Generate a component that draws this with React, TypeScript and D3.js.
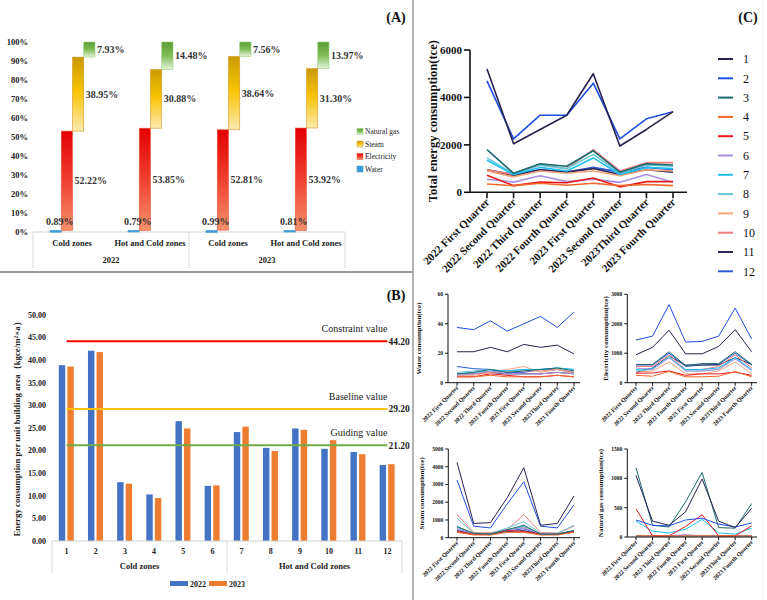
import * as d3 from "d3"

// ---- Panel A: share of energy types ----
const shareZones = ["Cold zones", "Hot and Cold zones", "Cold zones", "Hot and Cold zones"]
const shareYears = ["2022", "2023"]
const energyTypes = ["Water", "Electricity", "Steam", "Natural gas"]
const shareWater = [0.89, 0.79, 0.99, 0.81]
const shareElectricity = [52.22, 53.85, 52.81, 53.92]
const shareSteam = [38.95, 30.88, 38.64, 31.3]
const shareGas = [7.93, 14.48, 7.56, 13.97]
const percentTicks = [0, 10, 20, 30, 40, 50, 60, 70, 80, 90, 100]

// ---- Panel B: intensity per building ----
const buildings = ["1", "2", "3", "4", "5", "6", "7", "8", "9", "10", "11", "12"]
const intensity2022 = [38.9, 42.1, 13.0, 10.3, 26.5, 12.2, 24.1, 20.6, 24.9, 20.4, 19.7, 16.8]
const intensity2023 = [38.6, 41.8, 12.7, 9.5, 24.9, 12.3, 25.3, 19.9, 24.6, 22.3, 19.2, 17.0]
const benchmarkNames = ["Constraint value", "Baseline value", "Guiding value"]
const benchmarkValues = [44.2, 29.2, 21.2]
const intensityTicks = [0, 5, 10, 15, 20, 25, 30, 35, 40, 45, 50]

// ---- Panel C: quarterly consumption per building ----
const quarters = [
  "2022 First Quarter",
  "2022 Second Quarter",
  "2022 Third Quarter",
  "2022 Fourth Quarter",
  "2023 First Quarter",
  "2023 Second Quarter",
  "2023Third Quarter",
  "2023 Fourth Quarter",
]

const totalData = [
  [5200, 2050, 2650, 3250, 5000, 1950, 2650, 3400],
  [4700, 2250, 3250, 3250, 4600, 2250, 3100, 3400],
  [1800, 800, 1200, 1100, 1750, 850, 1200, 1150],
  [350, 280, 380, 300, 380, 280, 330, 280],
  [720, 280, 430, 400, 600, 230, 450, 450],
  [550, 430, 700, 450, 550, 420, 750, 420],
  [1350, 750, 1050, 900, 1450, 750, 1050, 1000],
  [1450, 780, 1150, 1000, 1600, 800, 1150, 1100],
  [900, 650, 900, 800, 900, 700, 950, 900],
  [950, 750, 1150, 1000, 1800, 900, 1250, 1250],
  [950, 700, 950, 850, 1000, 750, 950, 850],
  [950, 750, 950, 850, 1050, 850, 1050, 950],
]

const waterData = [
  [21, 21, 24, 21, 26, 24, 25.5, 19.5],
  [37.5, 36, 42, 35, 40, 45, 37.5, 48],
  [6, 7, 9, 7, 8, 9, 10, 8],
  [4, 4, 5, 4, 4, 4, 5, 4],
  [4, 4, 6, 5, 4, 4, 5, 4],
  [5, 6, 8, 6, 6, 6, 7, 6],
  [6, 7, 8, 8, 9, 9, 10, 9],
  [7, 8, 9, 8, 9, 9, 10, 9],
  [5, 5, 7, 9, 11, 7, 9, 6],
  [6, 6, 7, 8, 8, 8, 9, 7],
  [6, 6, 7, 6, 6, 6, 7, 6],
  [11, 9.5, 9, 7, 7, 9, 9, 7],
]

const electricityData = [
  [950, 1200, 1780, 980, 980, 1230, 1800, 1050],
  [1450, 1580, 2650, 1380, 1400, 1580, 2530, 1480],
  [620, 620, 1050, 580, 650, 650, 1050, 620],
  [250, 220, 380, 200, 200, 220, 380, 200],
  [320, 330, 400, 250, 300, 300, 360, 250],
  [500, 450, 850, 400, 400, 450, 800, 420],
  [450, 480, 850, 450, 450, 500, 850, 450],
  [400, 450, 900, 400, 400, 450, 850, 400],
  [350, 400, 700, 300, 300, 400, 700, 300],
  [550, 550, 950, 450, 450, 550, 950, 500],
  [350, 500, 900, 600, 600, 600, 850, 620],
  [600, 600, 1000, 550, 600, 620, 1000, 600],
]

const steamData = [
  [4250, 800, 850, 2250, 3950, 700, 800, 2350],
  [3250, 650, 550, 1900, 3150, 650, 550, 1850],
  [600, 250, 200, 450, 700, 200, 200, 400],
  [300, 150, 150, 300, 300, 150, 150, 300],
  [350, 200, 200, 400, 350, 200, 200, 350],
  [500, 200, 200, 450, 550, 200, 200, 400],
  [650, 200, 200, 400, 650, 200, 200, 400],
  [1100, 250, 250, 550, 900, 250, 250, 700],
  [650, 250, 300, 400, 600, 250, 250, 350],
  [1300, 300, 250, 450, 1300, 300, 250, 650],
  [400, 200, 200, 350, 400, 200, 200, 350],
  [500, 200, 200, 400, 500, 200, 200, 400],
]

const gasData = [
  [1050, 270, 200, 430, 990, 270, 160, 490],
  [290, 200, 190, 290, 320, 220, 170, 240],
  [1180, 200, 170, 600, 1100, 160, 150, 570],
  [20, 20, 20, 20, 20, 20, 20, 20],
  [480, 20, 20, 180, 380, 20, 20, 190],
  [20, 20, 20, 40, 20, 20, 20, 20],
  [270, 100, 70, 130, 300, 70, 50, 150],
  [15, 15, 15, 15, 15, 15, 15, 15],
  [10, 10, 10, 10, 10, 10, 10, 10],
  [10, 10, 10, 10, 10, 10, 10, 10],
  [15, 15, 15, 15, 15, 15, 15, 15],
  [20, 20, 20, 20, 20, 20, 20, 20],
]

const FONT = "'Liberation Serif', 'Times New Roman', serif"

const seriesColors = [
  "#27224f", "#1f4fe0", "#1d6a6e", "#f2682a", "#e8191b", "#a890e0",
  "#22c0f2", "#66c8d6", "#f7a47c", "#f27d7d", "#2b2955", "#2f58d6",
]

function fmtPct(v: number) {
  return v.toFixed(2) + "%"
}

function PanelA() {
  const x = d3.scaleBand<number>().domain([0, 1, 2, 3]).range([33, 345])
  const sub = d3.scaleBand<string>().domain(energyTypes).range([17, 62])
  const y = d3.scaleLinear().domain([0, 100]).range([232, 42])
  const fills = ["#3b9bd6", "url(#gElec)", "url(#gSteam)", "url(#gGas)"]
  const strokes = ["#3b9bd6", "#e25a3a", "#d99a2a", "#9bcf7a"]

  return (
    <g>
      <defs>
        <linearGradient id="gElec" x1="0" y1="0" x2="0" y2="1">
          <stop offset="0" stopColor="#e30000" />
          <stop offset="0.5" stopColor="#f04030" />
          <stop offset="1" stopColor="#f5926a" />
        </linearGradient>
        <linearGradient id="gSteam" x1="0" y1="0" x2="0" y2="1">
          <stop offset="0" stopColor="#c99a00" />
          <stop offset="0.45" stopColor="#f7c200" />
          <stop offset="1" stopColor="#fdeab0" />
        </linearGradient>
        <linearGradient id="gGas" x1="0" y1="0" x2="0" y2="1">
          <stop offset="0" stopColor="#5a9e32" />
          <stop offset="0.5" stopColor="#80bd58" />
          <stop offset="1" stopColor="#e4f2d8" />
        </linearGradient>
      </defs>
      {percentTicks.map((t) => (
        <text key={t} x={28} y={y(t)} dy="0.35em" textAnchor="end" fontSize={8.5} fontWeight="bold" fill="#222">
          {t}%
        </text>
      ))}
      <line x1={33} x2={345} y1={232} y2={232} stroke="#d0d0d0" />
      {[33, 189, 345].map((lx) => (
        <line key={lx} x1={lx} x2={lx} y1={232} y2={268} stroke="#d9d9d9" />
      ))}
      {shareZones.map((z, i) => {
        const vals = [shareWater[i], shareElectricity[i], shareSteam[i], shareGas[i]]
        const starts = [0, vals[0], vals[0] + vals[1], vals[0] + vals[1] + vals[2]]
        const bx = x(i)!
        return (
          <g key={i}>
            {energyTypes.map((t, k) => {
              const x0 = bx + sub(t)!
              const top = y(starts[k] + vals[k])
              const h = Math.max(1.5, y(starts[k]) - top)
              return (
                <rect key={t} x={x0} y={k === 0 ? y(0) - 1.5 : top} width={sub.bandwidth()} height={h}
                  fill={fills[k]} stroke={strokes[k]} strokeWidth={0.6} />
              )
            })}
            {energyTypes.map((t, k) => {
              const x0 = bx + sub(t)!
              if (k === 0) {
                return (
                  <text key={t} x={x0 + sub.bandwidth() / 2 + 4} y={y(0) - 7} textAnchor="middle" fontSize={10} fontWeight="bold" fill="#333">
                    {fmtPct(vals[k])}
                  </text>
                )
              }
              return (
                <text key={t} x={x0 + sub.bandwidth() + 2} y={y(starts[k] + vals[k] / 2)} dy="0.35em" fontSize={10} fontWeight="bold" fill="#333">
                  {fmtPct(vals[k])}
                </text>
              )
            })}
            <text x={bx + x.bandwidth() / 2} y={246} textAnchor="middle" fontSize={8.5} fontWeight="bold" fill="#222">
              {z}
            </text>
          </g>
        )
      })}
      {shareYears.map((yr, i) => (
        <text key={yr} x={111 + i * 156} y={263} textAnchor="middle" fontSize={8.5} fontWeight="bold" fill="#222">
          {yr}
        </text>
      ))}
      {["Natural gas", "Steam", "Electricity", "Water"].map((nm, i) => {
        const k = energyTypes.indexOf(nm)
        const cy = 131.5 + i * 12.5
        return (
          <g key={nm}>
            <rect x={357} y={cy - 3} width={6} height={6} fill={fills[k]} stroke={strokes[k]} strokeWidth={0.5} />
            <text x={365} y={cy} dy="0.35em" fontSize={7.5} fill="#222">
              {nm}
            </text>
          </g>
        )
      })}
      <text x={396} y={22} textAnchor="middle" fontSize={14} fontWeight="bold" fill="#111">
        (A)
      </text>
    </g>
  )
}

function PanelB() {
  const x = d3.scaleBand<string>().domain(buildings).range([52, 402])
  const sub = d3.scaleBand<string>().domain(["2022", "2023"]).range([6.8, 21.8]).paddingInner(0.25)
  const y = d3.scaleLinear().domain([0, 50]).range([541, 315])
  const benchColors = ["#ff0000", "#ffc000", "#70ad47"]
  const cx = (b: string) => x(b)! + x.bandwidth() / 2
  const xStart = cx(buildings[0])
  const xEnd = cx(buildings[buildings.length - 1])

  return (
    <g>
      {intensityTicks.map((t) => (
        <text key={t} x={46} y={y(t)} dy="0.35em" textAnchor="end" fontSize={8} fontWeight="bold" fill="#222">
          {t.toFixed(2)}
        </text>
      ))}
      <text transform={`translate(20,${427}) rotate(-90)`} textAnchor="middle" fontSize={8.8} fontWeight="bold" fill="#222">
        Energy consumption per unit building area（kgce/m²×a）
      </text>
      {buildings.map((b, i) => (
        <g key={b}>
          <rect x={x(b)! + sub("2022")!} y={y(intensity2022[i])} width={sub.bandwidth()} height={y(0) - y(intensity2022[i])} fill="#4472c4" />
          <rect x={x(b)! + sub("2023")!} y={y(intensity2023[i])} width={sub.bandwidth()} height={y(0) - y(intensity2023[i])} fill="#ed7d31" />
          <text x={cx(b)} y={551} dy="0.35em" textAnchor="middle" fontSize={8} fontWeight="bold" fill="#222">
            {b}
          </text>
        </g>
      ))}
      <line x1={52} x2={402} y1={541} y2={541} stroke="#d0d0d0" />
      {[52, x("7")!, 402].map((lx) => (
        <line key={lx} x1={lx} x2={lx} y1={541} y2={573} stroke="#d9d9d9" />
      ))}
      <text x={(52 + x("7")!) / 2} y={566} dy="0.35em" textAnchor="middle" fontSize={8.5} fontWeight="bold" fill="#222">
        Cold zones
      </text>
      <text x={(x("7")! + 402) / 2} y={566} dy="0.35em" textAnchor="middle" fontSize={8.5} fontWeight="bold" fill="#222">
        Hot and Cold zones
      </text>
      {benchmarkNames.map((nm, i) => (
        <g key={nm}>
          <line x1={xStart} x2={xEnd} y1={y(benchmarkValues[i])} y2={y(benchmarkValues[i])} stroke={benchColors[i]} strokeWidth={2} />
          <text x={xEnd} y={y(benchmarkValues[i]) - 9} textAnchor="end" fontSize={10} fill="#222">
            {nm}
          </text>
          <text x={xEnd + 1} y={y(benchmarkValues[i])} dy="0.35em" fontSize={9.5} fontWeight="bold" fill="#222">
            {benchmarkValues[i].toFixed(2)}
          </text>
        </g>
      ))}
      <rect x={170} y={581} width={18} height={5} fill="#4472c4" />
      <text x={190} y={584} dy="0.35em" fontSize={8} fontWeight="bold" fill="#222">2022</text>
      <rect x={209} y={581} width={18} height={5} fill="#ed7d31" />
      <text x={229} y={584} dy="0.35em" fontSize={8} fontWeight="bold" fill="#222">2023</text>
      <text x={396} y={300} textAnchor="middle" fontSize={14} fontWeight="bold" fill="#111">
        (B)
      </text>
    </g>
  )
}

interface LineChartProps {
  data: number[][]
  axisX: number
  xFirst: number
  xLast: number
  xEnd: number
  y0: number
  yTop: number
  max: number
  ticks: number[]
  title: string
  titleX: number
  tickFont: number
  labelFont: number
  titleFont: number
  strokeW: number
  tickLen: number
  axisW: number
}

function LineChart(p: LineChartProps) {
  const x = d3.scalePoint<string>().domain(quarters).range([p.xFirst, p.xLast])
  const y = d3.scaleLinear().domain([0, p.max]).range([p.y0, p.yTop])
  const line = d3
    .line<number>()
    .x((_, i) => x(quarters[i])!)
    .y((d) => y(d))
  const order = [11, 10, 9, 8, 7, 6, 5, 4, 3, 2, 1, 0]
  return (
    <g>
      {order.map((s) => (
        <path key={s} d={line(p.data[s]) || ""} fill="none" stroke={seriesColors[s]} strokeWidth={p.strokeW} strokeLinejoin="round" />
      ))}
      <line x1={p.axisX} x2={p.axisX} y1={p.y0} y2={p.yTop} stroke="#111" strokeWidth={p.axisW} />
      <line x1={p.axisX} x2={p.xEnd} y1={p.y0} y2={p.y0} stroke="#111" strokeWidth={p.axisW} />
      {p.ticks.map((t) => (
        <g key={t}>
          <line x1={p.axisX - p.tickLen} x2={p.axisX} y1={y(t)} y2={y(t)} stroke="#111" strokeWidth={p.axisW} />
          <text x={p.axisX - p.tickLen - 2} y={y(t)} dy="0.35em" textAnchor="end" fontSize={p.tickFont} fontWeight="bold" fill="#111">
            {t}
          </text>
        </g>
      ))}
      {quarters.map((q) => (
        <g key={q}>
          <line x1={x(q)} x2={x(q)} y1={p.y0} y2={p.y0 + p.tickLen} stroke="#111" strokeWidth={p.axisW} />
          <text
            transform={`translate(${x(q)! + p.labelFont * 0.3},${p.y0 + p.tickLen + p.labelFont * 0.4}) rotate(-45)`}
            textAnchor="end"
            fontSize={p.labelFont}
            fontWeight="bold"
            fill="#111"
          >
            {q}
          </text>
        </g>
      ))}
      <text
        transform={`translate(${p.titleX},${(p.y0 + p.yTop) / 2}) rotate(-90)`}
        textAnchor="middle"
        dy="0.35em"
        fontSize={p.titleFont}
        fontWeight="bold"
        fill="#111"
      >
        {p.title}
      </text>
    </g>
  )
}

function PanelC() {
  const small = { tickFont: 5.5, labelFont: 6, titleFont: 7, strokeW: 1, tickLen: 3, axisW: 1 }
  return (
    <g>
      <LineChart data={totalData} axisX={470} xFirst={487} xLast={673} xEnd={687} y0={192.3} yTop={50} max={6000}
        ticks={[0, 2000, 4000, 6000]} title="Total energy consumption(tce)" titleX={433}
        tickFont={11} labelFont={11} titleFont={12.5} strokeW={1.6} tickLen={6} axisW={1.6} />
      <LineChart data={waterData} axisX={448} xFirst={457} xLast={574} xEnd={580} y0={382.7} yTop={294.3} max={60}
        ticks={[0, 20, 40, 60]} title="Water consumption(tce)" titleX={419} {...small} />
      <LineChart data={electricityData} axisX={627.3} xFirst={636} xLast={751.7} xEnd={757} y0={382.7} yTop={294.3} max={3000}
        ticks={[0, 1000, 2000, 3000]} title="Electricity consumption(tce)" titleX={606} {...small} />
      <LineChart data={steamData} axisX={448.3} xFirst={457} xLast={574} xEnd={580} y0={537.7} yTop={449} max={5000}
        ticks={[0, 1000, 2000, 3000, 4000, 5000]} title="Steam consumption(tce)" titleX={422} {...small} />
      <LineChart data={gasData} axisX={627.3} xFirst={636} xLast={751.7} xEnd={757} y0={537} yTop={449} max={1500}
        ticks={[0, 500, 1000, 1500]} title="Natural gas consumption(tce)" titleX={601} {...small} />
      {seriesColors.map((c, i) => (
        <g key={i}>
          <line x1={718} x2={733} y1={59 + i * 19.3} y2={59 + i * 19.3} stroke={c} strokeWidth={2} />
          <text x={743} y={59 + i * 19.3} dy="0.35em" fontSize={12} fill="#111">
            {i + 1}
          </text>
        </g>
      ))}
      <text x={748} y={22} textAnchor="middle" fontSize={14} fontWeight="bold" fill="#111">
        (C)
      </text>
    </g>
  )
}

export default function App() {
  return (
    <div style={{ position: "absolute", left: 0, top: 0 }}>
      <svg width={767} height={600} style={{ display: "block", background: "#fff", fontFamily: FONT }}>
        <rect width={767} height={600} fill="#fff" />
        <PanelA />
        <PanelB />
        <PanelC />
        <line x1={0} x2={413} y1={272} y2={272} stroke="#9a9a9a" strokeWidth={2} />
        <line x1={413} x2={413} y1={0} y2={600} stroke="#9a9a9a" strokeWidth={1.5} />
        <line x1={763} x2={763} y1={0} y2={600} stroke="#f0f0f0" strokeWidth={1} />
      </svg>
    </div>
  )
}
